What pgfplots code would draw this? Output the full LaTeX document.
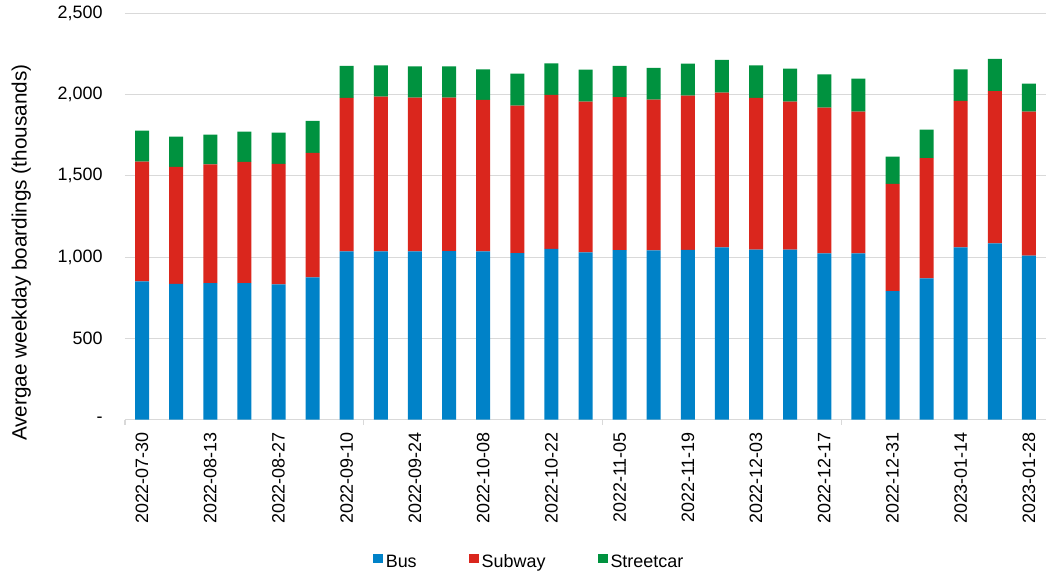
\documentclass[border=0pt]{standalone}
\usepackage{pgfplots}
\pgfplotsset{compat=1.18}
\usepackage{pgfplotstable}
\usepackage{fontspec}
\setmainfont{Liberation Sans}
\definecolor{cbus}{RGB}{0,130,200}
\definecolor{csub}{RGB}{218,38,29}
\definecolor{cstr}{RGB}{0,146,63}
\definecolor{cgrid}{RGB}{217,217,217}

\pgfplotstableread{
idx bus subway streetcar
0 851 737 191
1 836 719 187
2 840 730 184
3 840 746 186
4 832 741 193
5 875 766 197
6 1036 944 197
7 1035 953 192
8 1035 946 193
9 1037 944 193
10 1035 932 188
11 1025 907 197
12 1051 947 194
13 1029 928 197
14 1043 942 191
15 1041 928 195
16 1045 949 196
17 1060 952 201
18 1047 932 201
19 1047 910 203
20 1023 897 205
21 1023 872 203
22 791 660 168
23 869 740 176
24 1060 901 194
25 1084 938 197
26 1010 885 173
}\data

\begin{document}
\begin{tikzpicture}
\path[use as bounding box] (-125bp,-151.3bp) rectangle (921bp,419.7bp);
\begin{axis}[
  at={(0,0)}, anchor=south west,
  scale only axis, width=921bp, height=406.4bp,
  ybar stacked, bar width=14bp,
  xmin=-0.5, xmax=26.5, ymin=0, ymax=2500,
  axis lines*=left,
  y axis line style={draw=none},
  x axis line style={draw=cgrid, line width=1.2bp},
  xtick={0,2,...,26},
  xticklabels={2022-07-30,2022-08-13,2022-08-27,2022-09-10,2022-09-24,2022-10-08,2022-10-22,2022-11-05,2022-11-19,2022-12-03,2022-12-17,2022-12-31,2023-01-14,2023-01-28},
  xtick style={draw=none},
  x tick label style={rotate=90, anchor=east, inner sep=0pt, font=\fontsize{18}{20}\selectfont},
  xticklabel shift=12.3bp,
  extra x ticks={-0.5,6.5,13.5,20.5},
  extra x tick labels={},
  extra x tick style={xtick style={draw=cgrid, line width=1.2bp}, major tick length=5bp, tick align=outside, grid=none},
  ytick={0,500,...,2500},
  yticklabels={{-\hspace{9.4bp}},500,{1,000},{1,500},{2,000},{2,500}},
  ytick style={draw=none},
  y tick label style={anchor=east, inner sep=0pt, xshift=-22.3bp, font=\fontsize{18}{20}\selectfont},
  ymajorgrids, grid style={draw=cgrid, line width=1.2bp},
  ylabel={Avergae weekday boardings (thousands)},
  ylabel style={at={(axis description cs:-0.1125,0.411)}, anchor=center, inner sep=0pt, font=\fontsize{20.8}{22}\selectfont},
  legend columns=-1,
  legend style={at={(axis description cs:0.4376,-0.349)}, anchor=center, draw=none, fill=none,
    font=\fontsize{18}{20}\selectfont, nodes={inner sep=0pt},
    /tikz/every odd column/.append style={column sep=3bp},
    /tikz/every even column/.append style={column sep=52bp}},
]
\addplot[fill=cbus, draw=none, legend image code/.code={\fill[cbus] (0bp,-1bp) rectangle (10bp,8.5bp);}] table[x=idx, y=bus] {\data};
\addplot[fill=csub, draw=none, legend image code/.code={\fill[csub] (0bp,-1bp) rectangle (10bp,8.5bp);}] table[x=idx, y=subway] {\data};
\addplot[fill=cstr, draw=none, legend image code/.code={\fill[cstr] (0bp,-1bp) rectangle (10bp,8.5bp);}] table[x=idx, y=streetcar] {\data};
\legend{Bus,Subway,Streetcar}
\end{axis}
\end{tikzpicture}
\end{document}
